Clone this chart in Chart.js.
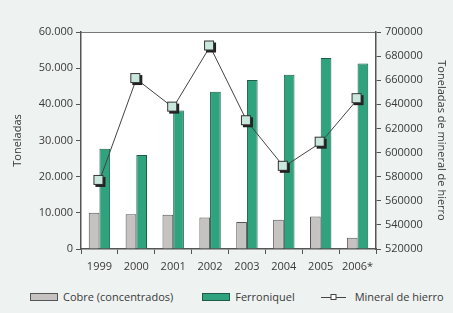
<!DOCTYPE html>
<html>
<head>
<meta charset="utf-8">
<script src="https://cdn.jsdelivr.net/npm/chart.js@4/dist/chart.umd.min.js"></script>
<style>
  html, body { margin: 0; padding: 0; background: #eef2f1; }
  #wrap { position: relative; width: 453px; height: 273px; }
  #legend {
    position: absolute; top: 289px; left: 30px;
    display: flex; align-items: center;
    font: 11px 'Open Sans', 'Noto Sans', sans-serif; color: #3a3a3a;
    white-space: nowrap; line-height: 16px;
  }
  .sw { display: inline-block; width: 26px; height: 6px; border: 1px solid #555; margin-right: 5px; }
  .item { display: flex; align-items: center; }
</style>
</head>
<body>
<div id="wrap"><canvas id="mineria"></canvas></div>
<div id="legend"></div>
<script>
const years = ["1999", "2000", "2001", "2002", "2003", "2004", "2005", "2006*"];
const cobre = [10000, 9600, 9500, 8700, 7500, 8100, 9000, 3100];
const ferroniquel = [27700, 26000, 38300, 43500, 46700, 48200, 52800, 51300];
const hierro = [576500, 661000, 637300, 688000, 626000, 588200, 608200, 644300];
const leftTicks = [0, 10000, 20000, 30000, 40000, 50000, 60000];
const rightTicks = [520000, 540000, 560000, 580000, 600000, 620000, 640000, 660000, 680000, 700000];

const FONT = "'Open Sans', 'Noto Sans', sans-serif";
const TEXT = "#3a3a3a";
const AXIS = "#555";

// square marker with a dark drop shadow
function makeMarker() {
  const c = document.createElement("canvas");
  c.width = 14; c.height = 14;
  const g = c.getContext("2d");
  g.fillStyle = "#222";
  g.fillRect(3, 3, 10, 10);
  g.fillStyle = "#c9e7dd";
  g.fillRect(1, 1, 10, 10);
  g.strokeStyle = "#333";
  g.lineWidth = 1;
  g.strokeRect(1.5, 1.5, 9, 9);
  return c;
}

const plotBg = {
  id: "plotBg",
  beforeDraw(chart) {
    const { ctx, chartArea: a } = chart;
    ctx.save();
    ctx.fillStyle = "#fff";
    ctx.fillRect(a.left, a.top, a.right - a.left, a.bottom - a.top);
    ctx.strokeStyle = "#777";
    ctx.lineWidth = 1;
    ctx.beginPath();
    ctx.moveTo(a.left, a.top + 0.5);
    ctx.lineTo(a.right, a.top + 0.5);
    ctx.stroke();
    ctx.restore();
  }
};

const chart = new Chart(document.getElementById("mineria"), {
  data: {
    labels: years,
    datasets: [
      {
        type: "line",
        label: "Mineral de hierro",
        data: hierro,
        yAxisID: "y2",
        borderColor: "#444",
        borderWidth: 1,
        pointStyle: makeMarker(),
        pointRadius: 6,
        tension: 0,
        order: 0
      },
      {
        type: "bar",
        label: "Cobre (concentrados)",
        data: cobre,
        yAxisID: "y",
        backgroundColor: "#c6c2c2",
        borderColor: "#555",
        borderWidth: 1,
        categoryPercentage: 0.58,
        barPercentage: 1.0,
        order: 1
      },
      {
        type: "bar",
        label: "Ferroniquel",
        data: ferroniquel,
        yAxisID: "y",
        backgroundColor: "#2ea37e",
        borderColor: "#1d5c46",
        borderWidth: 1,
        categoryPercentage: 0.58,
        barPercentage: 1.0,
        order: 1
      }
    ]
  },
  options: {
    responsive: true,
    maintainAspectRatio: false,
    animation: false,
    layout: { padding: { top: 32, left: 0, right: 0, bottom: 0 } },
    plugins: {
      tooltip: { enabled: false },
      legend: { display: false }
    },
    scales: {
      x: {
        offset: true,
        grid: { offset: true, drawOnChartArea: false, tickLength: 5, color: AXIS },
        border: { color: AXIS, width: 1.5 },
        ticks: { color: TEXT, font: { family: FONT, size: 11 }, padding: 6, maxRotation: 0, autoSkip: false },
        afterFit(s) { s.height = 24; }
      },
      y: {
        position: "left",
        min: 0, max: 60000,
        afterBuildTicks(s) { s.ticks = leftTicks.map(v => ({ value: v })); },
        grid: { drawOnChartArea: false, tickLength: 5, color: AXIS },
        border: { color: AXIS, width: 1.5 },
        ticks: {
          color: TEXT, font: { family: FONT, size: 11 }, padding: 3,
          callback: v => v === 0 ? "0" : v.toString().replace(/\B(?=(\d{3})+(?!\d))/g, ".")
        },
        title: { display: true, text: "Toneladas", color: TEXT, font: { family: FONT, size: 11 }, padding: { top: 11, bottom: 0 } },
        afterFit(s) { s.width = 81; }
      },
      y2: {
        position: "right",
        min: 520000, max: 700000,
        afterBuildTicks(s) { s.ticks = rightTicks.map(v => ({ value: v })); },
        grid: { drawOnChartArea: false, tickLength: 5, color: AXIS },
        border: { color: AXIS, width: 1.5 },
        ticks: { color: TEXT, font: { family: FONT, size: 11 }, padding: 4, callback: v => String(v) },
        title: { display: true, text: "Toneladas de mineral de hierro", color: TEXT, font: { family: FONT, size: 11 }, padding: { top: 5, bottom: 0 } },
        afterFit(s) { s.width = 77; }
      }
    }
  },
  plugins: [plotBg]
});

// legend in the order of the original: two bar swatches, then the line with its marker
const legend = document.getElementById("legend");
[1, 2, 0].forEach((i, k) => {
  const ds = chart.data.datasets[i];
  const item = document.createElement("span");
  item.className = "item";
  if (k > 0) item.style.marginLeft = k === 1 ? "29px" : "26px";
  let sw;
  if (ds.type === "bar") {
    sw = document.createElement("span");
    sw.className = "sw";
    sw.style.background = ds.backgroundColor;
    sw.style.borderColor = ds.borderColor;
  } else {
    sw = document.createElementNS("http://www.w3.org/2000/svg", "svg");
    sw.setAttribute("width", "25");
    sw.setAttribute("height", "8");
    sw.style.marginRight = "9px";
    sw.innerHTML = '<line x1="0" y1="4.5" x2="25" y2="4.5" stroke="#444" stroke-width="1"/>' +
      '<rect x="10" y="1.5" width="5" height="5" fill="#fff" stroke="#444" stroke-width="1"/>';
  }
  item.appendChild(sw);
  item.appendChild(document.createTextNode(ds.label));
  legend.appendChild(item);
});
</script>
</body>
</html>
